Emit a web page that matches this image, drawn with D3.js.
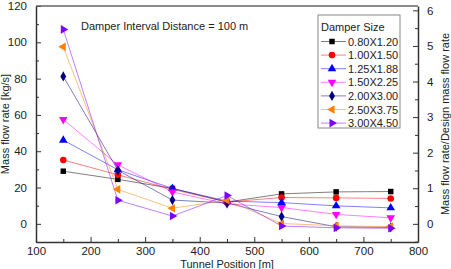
<!DOCTYPE html>
<html>
<head>
<meta charset="utf-8">
<script src="https://cdn.jsdelivr.net/npm/d3@7"></script>
<style>
  body { margin: 0; background: #fff; }
  svg { font-family: "Liberation Sans", Arial, sans-serif; }
</style>
</head>
<body>
<div id="chart"></div>
<script>
// Data
var positions = [150, 250, 350, 450, 550, 650, 750];
var damperSizes = ["0.80X1.20", "1.00X1.50", "1.25X1.88", "1.50X2.25", "2.00X3.00", "2.50X3.75", "3.00X4.50"];
var flow080 = [29.0, 24.5, 19.5, 12.0, 16.5, 17.6, 17.8];
var flow100 = [35.2, 27.0, 19.0, 12.0, 14.5, 14.3, 14.0];
var flow125 = [46.1, 29.8, 19.5, 12.5, 11.7, 9.9, 8.8];
var flow150 = [57.5, 32.5, 17.6, 11.0, 9.0, 5.2, 3.3];
var flow200 = [81.2, 29.5, 13.1, 11.5, 4.0, -1.6, -2.0];
var flow250 = [97.5, 19.0, 8.6, 13.0, 0.2, -1.1, -1.5];
var flow300 = [107.1, 13.0, 4.3, 15.6, -1.2, -2.2, -2.4];
var xTicks = [100, 200, 300, 400, 500, 600, 700, 800];
var yTicks = [0, 20, 40, 60, 80, 100, 120];
var yRightTicks = [0, 1, 2, 3, 4, 5, 6];
var designFlow = 19.6; // kg/s, right axis ratio

var series = [flow080, flow100, flow125, flow150, flow200, flow250, flow300];
var colors = ["#000000", "#ff0000", "#0000ff", "#ff00ff", "#000080", "#ff8000", "#8000ff"];
var shapes = ["square", "circle", "up", "down", "diamond", "left", "right"];

var W = 451, H = 269;
var margin = {top: 6, right: 33, bottom: 27, left: 36};

var svg = d3.select("#chart").append("svg")
    .attr("width", W).attr("height", H);

var xScale = d3.scaleLinear().domain([100, 800]).range([margin.left, W - margin.right]);
var yScale = d3.scaleLinear().domain([-10, 120]).range([H - margin.bottom, margin.top]);
var yRight = d3.scaleLinear().domain([-10 / designFlow, 120 / designFlow]).range([H - margin.bottom, margin.top]);

var axisColor = "#333";

// minor ticks first
function minorTicks(g) {
  g.selectAll(".tick line").attr("stroke", axisColor).attr("stroke-width", 1);
  g.select(".domain").remove();
  g.selectAll("text").remove();
}

svg.append("g").attr("transform", "translate(0," + (H - margin.bottom) + ")")
  .call(d3.axisBottom(xScale).tickValues(d3.range(150, 800, 100)).tickSizeInner(-3).tickSizeOuter(0))
  .call(minorTicks);
svg.append("g").attr("transform", "translate(" + margin.left + ",0)")
  .call(d3.axisLeft(yScale).tickValues(d3.range(-10, 120, 20)).tickSizeInner(-3).tickSizeOuter(0))
  .call(minorTicks);
svg.append("g").attr("transform", "translate(" + (W - margin.right) + ",0)")
  .call(d3.axisRight(yRight).tickValues(d3.range(-0.5, 6.1, 1)).tickSizeInner(-3).tickSizeOuter(0))
  .call(minorTicks);

// major axes
var xAxisEl = svg.append("g").attr("transform", "translate(0," + (H - margin.bottom) + ")")
  .call(d3.axisBottom(xScale).tickValues(xTicks).tickSizeInner(-5).tickSizeOuter(0).tickPadding(5));
var yAxisEl = svg.append("g").attr("transform", "translate(" + margin.left + ",0)")
  .call(d3.axisLeft(yScale).tickValues(yTicks).tickSizeInner(-5).tickSizeOuter(0).tickPadding(9));
var yRightEl = svg.append("g").attr("transform", "translate(" + (W - margin.right) + ",0)")
  .call(d3.axisRight(yRight).tickValues(yRightTicks).tickFormat(d3.format("d"))
    .tickSizeInner(-5).tickSizeOuter(0).tickPadding(9));

[xAxisEl, yAxisEl, yRightEl].forEach(function(g) {
  g.select(".domain").attr("stroke", axisColor).attr("stroke-width", 1.5);
  g.selectAll(".tick line").attr("stroke", axisColor).attr("stroke-width", 1);
  g.selectAll("text").attr("font-size", 11.5).attr("fill", "#222")
    .attr("font-family", "Liberation Sans, Arial, sans-serif");
});

// top frame line
svg.append("line")
  .attr("x1", margin.left).attr("x2", W - margin.right)
  .attr("y1", margin.top).attr("y2", margin.top)
  .attr("stroke", "#666").attr("stroke-width", 1.5);

// axis titles
svg.append("text")
  .attr("transform", "translate(9," + yScale(55) + ") rotate(-90)")
  .attr("text-anchor", "middle").attr("font-size", 11).attr("fill", "#222")
  .text("Mass flow rate [kg/s]");
svg.append("text")
  .attr("transform", "translate(449," + yScale(55) + ") rotate(-90)")
  .attr("text-anchor", "middle").attr("font-size", 11).attr("fill", "#222")
  .text("Mass flow rate/Design mass flow rate");
svg.append("text")
  .attr("x", xScale(450)).attr("y", H - 1)
  .attr("text-anchor", "middle").attr("font-size", 11).attr("fill", "#222")
  .text("Tunnel Position [m]");

svg.append("text")
  .attr("x", 81).attr("y", 30)
  .attr("font-size", 11).attr("fill", "#222")
  .text("Damper Interval Distance = 100 m");

// markers
function symbolFor(shape) {
  if (shape == "square") return d3.symbol().type(d3.symbolSquare).size(30);
  if (shape == "circle") return d3.symbol().type(d3.symbolCircle).size(34);
  if (shape == "diamond") return d3.symbol().type(d3.symbolDiamond).size(30);
  return d3.symbol().type(d3.symbolTriangle).size(32);
}
function rotFor(shape) {
  if (shape == "down") return 180;
  if (shape == "left") return -90;
  if (shape == "right") return 90;
  return 0;
}

var line = d3.line()
  .x(function(d, i) { return xScale(positions[i]); })
  .y(function(d) { return yScale(d); });

series.forEach(function(s, k) {
  svg.append("path").datum(s)
    .attr("d", line)
    .attr("fill", "none")
    .attr("stroke", colors[k])
    .attr("stroke-opacity", 0.5)
    .attr("stroke-width", 1);
});
series.forEach(function(s, k) {
  svg.selectAll(".m" + k).data(s).enter().append("path")
    .attr("class", "m" + k)
    .attr("d", symbolFor(shapes[k]))
    .attr("transform", function(d, i) {
      return "translate(" + xScale(positions[i]) + "," + yScale(d) + ") rotate(" + rotFor(shapes[k]) + ")";
    })
    .attr("fill", colors[k]);
});

// legend
var legend = svg.append("g").attr("transform", "translate(318,15)");
legend.append("rect")
  .attr("width", 82).attr("height", 113)
  .attr("fill", "#fff").attr("stroke", "#888").attr("stroke-width", 1);
legend.append("text")
  .attr("x", 3).attr("y", 16).attr("font-size", 11).attr("fill", "#222")
  .text("Damper Size");
damperSizes.forEach(function(name, k) {
  var yy = 26.5 + k * 13.6;
  legend.append("line")
    .attr("x1", 3).attr("x2", 28).attr("y1", yy).attr("y2", yy)
    .attr("stroke", colors[k]).attr("stroke-opacity", 0.5);
  legend.append("path")
    .attr("d", symbolFor(shapes[k]))
    .attr("transform", "translate(14," + yy + ") rotate(" + rotFor(shapes[k]) + ")")
    .attr("fill", colors[k]);
  legend.append("text")
    .attr("x", 30).attr("y", yy + 4).attr("font-size", 11).attr("fill", "#222")
    .text(name);
});
</script>
</body>
</html>
